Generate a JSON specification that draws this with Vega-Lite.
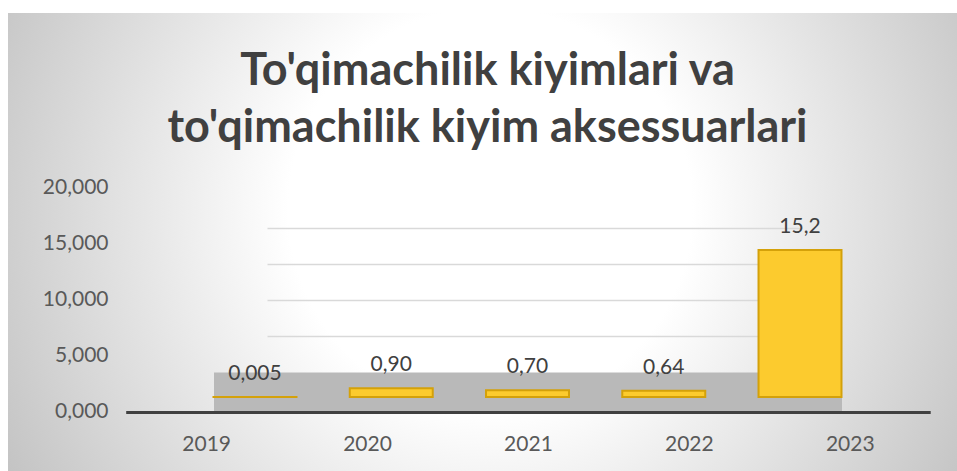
{
  "$schema": "https://vega.github.io/schema/vega-lite/v6.json",
  "width": 949,
  "height": 458,
  "autosize": {"type": "none"},
  "padding": {"left": 8, "top": 13, "right": 0, "bottom": 0},
  "background": "#ffffff",
  "title": {
    "text": ["To'qimachilik kiyimlari va", "to'qimachilik kiyim aksessuarlari"],
    "font": "Lato",
    "fontSize": 45,
    "fontWeight": "bold",
    "color": "#404040",
    "anchor": "middle",
    "frame": "group",
    "baseline": "top",
    "lineHeight": 57,
    "offset": -138,
    "dx": 5
  },
  "data": {
    "values": [
      {"year": "2019", "value": 0.005, "label": "0,005"},
      {"year": "2020", "value": 0.90, "label": "0,90"},
      {"year": "2021", "value": 0.70, "label": "0,70"},
      {"year": "2022", "value": 0.64, "label": "0,64"},
      {"year": "2023", "value": 15.2, "label": "15,2"}
    ]
  },
  "layer": [
    {
      "layer": [
        {
          "mark": {"type": "bar", "fill": "#fccb2e", "stroke": "#d4a10a", "strokeWidth": 2},
          "encoding": {
            "x": {
              "field": "year", "type": "nominal", "sort": null,
              "scale": {"range": [205.5, 833.5], "paddingInner": 0.391, "paddingOuter": 0},
              "axis": {"orient": "bottom", "title": null, "labels": false, "ticks": false, "grid": false, "domain": true, "domainColor": "#b9b9b9", "domainWidth": 40, "offset": -79}
            },
            "y": {
              "field": "value", "type": "quantitative",
              "scale": {"domain": [-7.652, 39.709], "nice": false, "zero": false},
              "axis": null
            }
          }
        },
        {
          "mark": {"type": "text", "baseline": "alphabetic", "dy": -17, "font": "Lato", "fontSize": 21, "color": "#404040"},
          "encoding": {
            "x": {"field": "year", "type": "nominal", "sort": null},
            "y": {"field": "value", "type": "quantitative"},
            "text": {"field": "label"}
          }
        }
      ]
    },
    {
      "mark": {"type": "point", "opacity": 0},
      "encoding": {
        "x": {
          "field": "year", "type": "nominal", "sort": null,
          "scale": {"range": [117.7, 922.2], "paddingInner": 0, "paddingOuter": 0.03},
          "axis": {"orient": "bottom", "title": null, "ticks": false, "tickSize": 0, "grid": false, "domain": true, "domainColor": "#404040", "domainWidth": 3, "labelPadding": 21, "labelAngle": 0, "offset": -59}
        },
        "y": {
          "field": "value", "type": "quantitative",
          "scale": {"domain": [-5.268, 35.625], "nice": false, "zero": false},
          "axis": {"orient": "left", "title": null, "values": [0, 5, 10, 15, 20], "labelExpr": "replace(format(datum.value, '.3f'), '.', ',')", "grid": false, "domain": false, "ticks": false, "tickSize": 0, "labelPadding": 19, "offset": -119}
        }
      }
    },
    {
      "mark": {"type": "point", "opacity": 0},
      "encoding": {
        "x": {
          "field": "year", "type": "nominal", "sort": null,
          "scale": {"range": [259, 792], "paddingInner": 0, "paddingOuter": 0},
          "axis": null
        },
        "y": {
          "field": "value", "type": "quantitative",
          "scale": {"domain": [-13.75, 49.861], "nice": false, "zero": false},
          "axis": {"orient": "left", "title": null, "values": [5, 10, 15, 20], "labels": false, "grid": true, "gridColor": "#d9d9d9", "gridWidth": 1.5, "domain": false, "ticks": false}
        }
      }
    }
  ],
  "resolve": {
    "scale": {"x": "independent", "y": "independent"},
    "axis": {"x": "independent", "y": "independent"}
  },
  "config": {
    "view": {
      "fill": {
        "gradient": "radial",
        "x1": 0.508, "y1": 0.466, "x2": 0.508, "y2": 0.466,
        "r1": 0, "r2": 0.575,
        "stops": [
          {"offset": 0, "color": "#ffffff"},
          {"offset": 0.37, "color": "#ffffff"},
          {"offset": 1, "color": "#c4c4c4"}
        ]
      },
      "stroke": null
    },
    "axis": {"labelFont": "Lato", "labelFontSize": 21, "labelColor": "#595959"},
    "text": {"font": "Lato"}
  }
}
